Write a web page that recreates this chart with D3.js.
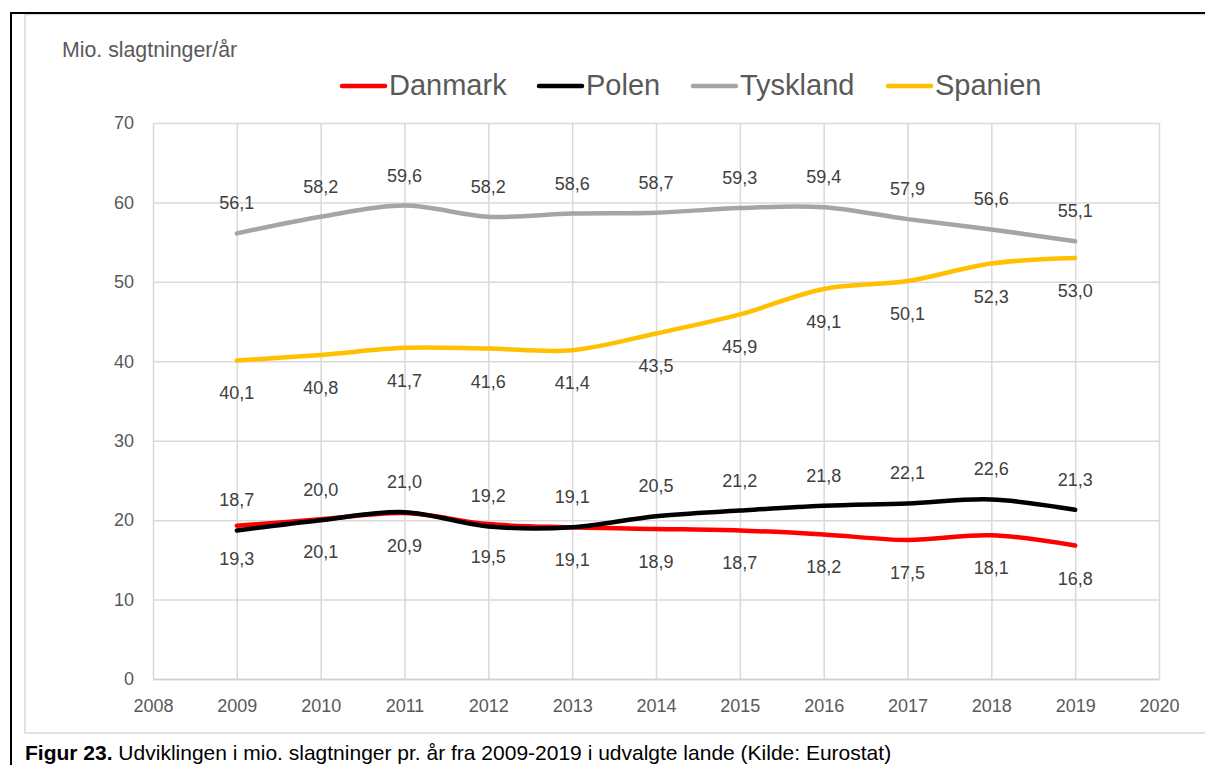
<!DOCTYPE html>
<html>
<head>
<meta charset="utf-8">
<script src="https://cdn.jsdelivr.net/npm/d3@7"></script>
<style>
  body { margin: 0; background: #fff; }
  svg { display: block; font-family: "Liberation Sans", Arial, sans-serif; }
</style>
</head>
<body>
<div id="chart"></div>
<script>
/* data */
var years = [2009, 2010, 2011, 2012, 2013, 2014, 2015, 2016, 2017, 2018, 2019];
var danmark = [19.3, 20.1, 20.9, 19.5, 19.1, 18.9, 18.7, 18.2, 17.5, 18.1, 16.8];
var polen = [18.7, 20.0, 21.0, 19.2, 19.1, 20.5, 21.2, 21.8, 22.1, 22.6, 21.3];
var tyskland = [56.1, 58.2, 59.6, 58.2, 58.6, 58.7, 59.3, 59.4, 57.9, 56.6, 55.1];
var spanien = [40.1, 40.8, 41.7, 41.6, 41.4, 43.5, 45.9, 49.1, 50.1, 52.3, 53.0];
var xTicks = [2008, 2009, 2010, 2011, 2012, 2013, 2014, 2015, 2016, 2017, 2018, 2019, 2020];
var yTicks = [0, 10, 20, 30, 40, 50, 60, 70];

var series = [
  {name: 'Danmark', values: danmark, color: '#ff0000', pos: 'below'},
  {name: 'Polen', values: polen, color: '#000000', pos: 'above'},
  {name: 'Tyskland', values: tyskland, color: '#a5a5a5', pos: 'above'},
  {name: 'Spanien', values: spanien, color: '#ffc000', pos: 'below'}
];

var width = 1205, height = 765;
var svg = d3.select('#chart').append('svg')
  .attr('width', width)
  .attr('height', height);

// frame: black outline + light gray chart box
svg.append('rect')
  .attr('x', 25).attr('y', 14.5).attr('width', 1200).attr('height', 718.5)
  .attr('fill', 'none').attr('stroke', '#d9d9d9').attr('stroke-width', 1.5);
svg.append('path')
  .attr('d', 'M11,765V13H1205')
  .attr('fill', 'none').attr('stroke', '#000').attr('stroke-width', 2);

var xScale = d3.scaleLinear().domain([2008, 2020]).range([153, 1159]);
var yScale = d3.scaleLinear().domain([0, 70]).range([679, 123]);

var g = svg.append('g');

// gridlines
g.append('g')
 .attr('transform', 'translate(0,123)')
 .call(d3.axisBottom(xScale).tickValues(xTicks).tickSize(556).tickFormat(''))
 .call(function (a) {
   a.select('.domain').remove();
   a.selectAll('line').attr('stroke', '#d9d9d9').attr('stroke-width', 1.5);
 });
g.append('g')
 .attr('transform', 'translate(153,0)')
 .call(d3.axisRight(yScale).tickValues(yTicks).tickSize(1006).tickFormat(''))
 .call(function (a) {
   a.select('.domain').remove();
   a.selectAll('line').attr('stroke', '#d9d9d9').attr('stroke-width', 1.5);
 });

// x axis labels
g.append('g')
 .attr('transform', 'translate(0,679)')
 .call(d3.axisBottom(xScale).tickValues(xTicks).tickSize(0).tickPadding(20).tickFormat(d3.format('d')))
 .call(function (a) {
   a.select('.domain').attr('stroke', '#d0d0d0').attr('stroke-width', 1.5);
   a.selectAll('text').attr('fill', '#595959').style('font-size', '18px')
    .style('font-family', '"Liberation Sans", Arial, sans-serif');
 });

// y axis labels
g.append('g')
 .attr('transform', 'translate(153,0)')
 .call(d3.axisLeft(yScale).tickValues(yTicks).tickSize(0).tickPadding(19))
 .call(function (a) {
   a.select('.domain').remove();
   a.selectAll('text').attr('fill', '#595959').style('font-size', '18px')
    .style('font-family', '"Liberation Sans", Arial, sans-serif');
 });

// lines
var line = d3.line()
  .x(function (d, i) { return xScale(years[i]); })
  .y(function (d) { return yScale(d); })
  .curve(d3.curveCatmullRom.alpha(0));

series.forEach(function (s) {
  g.append('path')
   .attr('d', line(s.values))
   .attr('fill', 'none')
   .attr('stroke', s.color)
   .attr('stroke-width', 4.5)
   .attr('stroke-linecap', 'round')
   .attr('stroke-linejoin', 'round');
});

// data labels
series.forEach(function (s) {
  g.selectAll('.lbl-' + s.name)
   .data(s.values)
   .enter().append('text')
   .attr('x', function (d, i) { return xScale(years[i]); })
   .attr('y', function (d) { return yScale(d) + (s.pos == 'above' ? -24 : 39); })
   .attr('text-anchor', 'middle')
   .attr('fill', '#404040')
   .style('font-size', '18px')
   .text(function (d) { return d.toFixed(1).replace('.', ','); });
});

// axis title
svg.append('text')
 .attr('x', 62).attr('y', 57)
 .attr('fill', '#595959')
 .style('font-size', '21.3px')
 .text('Mio. slagtninger/år');

// legend
var legendX = [342, 539, 693, 888];
var legend = svg.append('g');
series.forEach(function (s, i) {
  legend.append('line')
   .attr('x1', legendX[i]).attr('x2', legendX[i] + 43)
   .attr('y1', 86).attr('y2', 86)
   .attr('stroke', s.color).attr('stroke-width', 4.5).attr('stroke-linecap', 'round');
  legend.append('text')
   .attr('x', legendX[i] + 47).attr('y', 95)
   .attr('fill', '#595959')
   .style('font-size', '29px')
   .text(s.name);
});

// caption
var cap = svg.append('text')
 .attr('x', 25).attr('y', 760)
 .attr('fill', '#000')
 .style('font-size', '21px');
cap.append('tspan').style('font-weight', 'bold').text('Figur 23.');
cap.append('tspan').text(' Udviklingen i mio. slagtninger pr. år fra 2009-2019 i udvalgte lande (Kilde: Eurostat)');
</script>
</body>
</html>
